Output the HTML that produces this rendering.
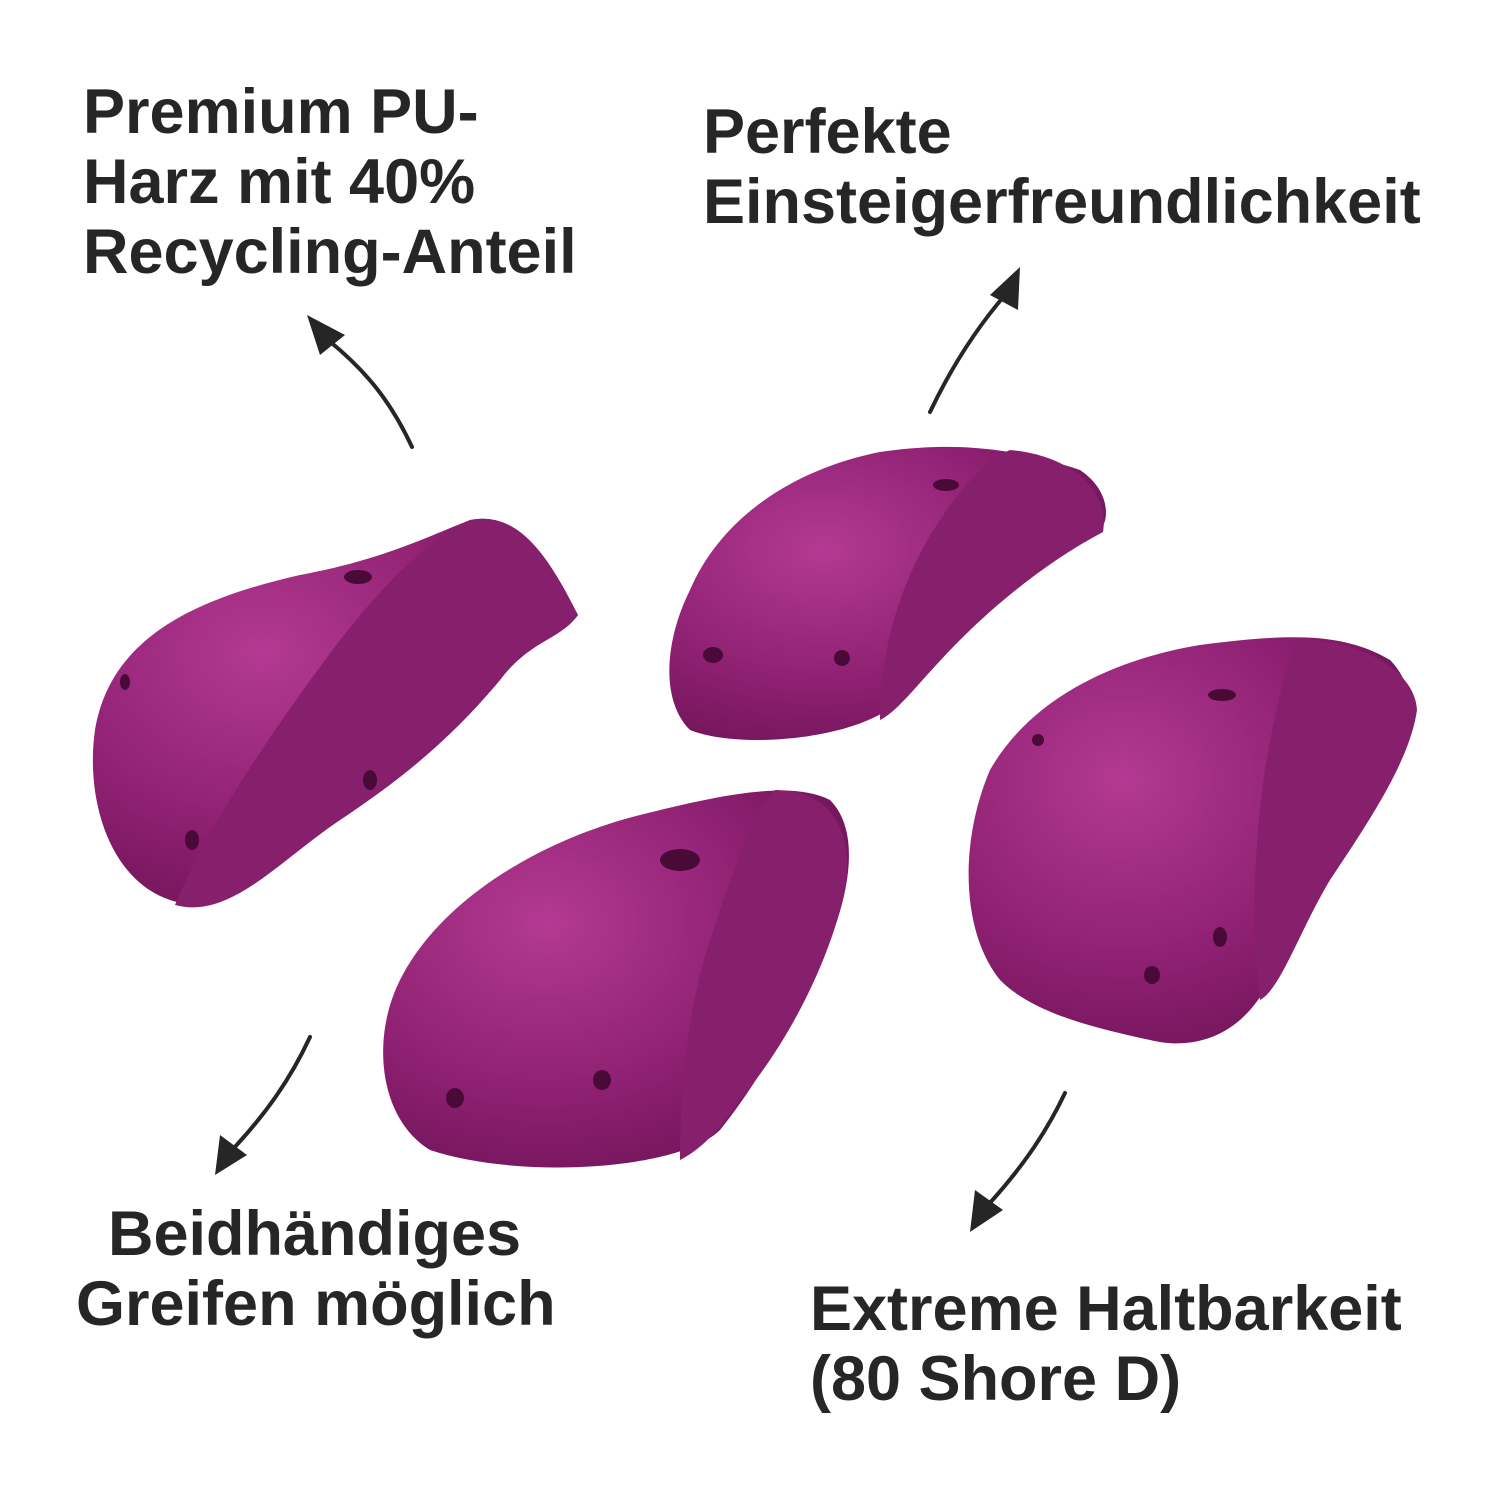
<!DOCTYPE html>
<html><head><meta charset="utf-8"><style>
html,body{margin:0;padding:0;background:#fff;}
body{width:1500px;height:1500px;position:relative;overflow:hidden;font-family:"Liberation Sans",Arial,sans-serif;}
.t{position:absolute;font-weight:bold;font-size:63px;line-height:70px;color:#262626;white-space:nowrap;}
svg{position:absolute;left:0;top:0;}
</style></head><body>
<svg width="1500" height="1500" viewBox="0 0 1500 1500">
<defs>
<radialGradient id="g1" cx="0.35" cy="0.35" r="0.8"><stop offset="0" stop-color="#b33a92"/><stop offset="0.6" stop-color="#8c1f70"/><stop offset="1" stop-color="#6a1253"/></radialGradient>
</defs>
<path d="M170 900 C110 880 85 800 95 730 C110 640 190 600 300 575 C380 560 420 540 470 520 C520 510 550 560 578 615 C560 640 530 640 500 680 C450 740 400 780 340 820 C280 860 230 920 170 900 Z" fill="url(#g1)"/>
<path d="M470 520 C520 510 550 560 578 615 C560 640 530 640 500 680 C450 740 400 780 340 820 C280 860 230 920 175 905 C210 820 280 720 340 640 C380 590 420 545 470 520 Z" fill="#86206c"/>
<path d="M690 730 C660 700 665 640 690 590 C720 520 790 470 880 452 C960 440 1020 450 1080 470 C1110 490 1110 520 1100 530 C1000 580 940 640 900 700 C860 740 740 750 690 730 Z" fill="url(#g1)"/>
<path d="M1010 450 C1070 455 1110 490 1103 532 C1050 560 1000 600 960 640 C920 680 900 710 880 720 C880 650 900 580 940 520 C960 490 985 460 1010 450 Z" fill="#86206c"/>
<path d="M430 1150 C380 1120 370 1040 400 980 C440 900 540 840 640 815 C720 795 790 780 830 800 C860 830 850 890 830 940 C800 1010 760 1080 720 1130 C680 1170 520 1180 430 1150 Z" fill="url(#g1)"/>
<path d="M775 790 C830 790 855 830 845 890 C830 960 790 1040 740 1100 C720 1130 700 1150 680 1160 C680 1080 690 1000 710 940 C730 880 750 820 775 790 Z" fill="#86206c"/>
<path d="M1000 980 C960 930 960 840 990 770 C1030 700 1110 660 1200 645 C1280 635 1340 630 1390 660 C1420 690 1415 740 1395 770 C1350 840 1300 900 1270 980 C1240 1040 1190 1050 1150 1040 C1080 1025 1030 1010 1000 980 Z" fill="url(#g1)"/>
<path d="M1300 640 C1360 640 1415 670 1417 710 C1410 760 1370 820 1330 880 C1300 930 1280 990 1260 1000 C1250 920 1255 840 1265 770 C1275 710 1285 665 1300 640 Z" fill="#86206c"/>
<g fill="#4a0a38">
<ellipse cx="358" cy="577" rx="14" ry="7"/><ellipse cx="125" cy="682" rx="5" ry="8"/><ellipse cx="370" cy="780" rx="7" ry="10"/><ellipse cx="192" cy="840" rx="7" ry="10"/>
<ellipse cx="946" cy="485" rx="13" ry="6"/><ellipse cx="713" cy="655" rx="10" ry="8"/><ellipse cx="842" cy="658" rx="8" ry="8"/>
<ellipse cx="680" cy="860" rx="20" ry="11"/><ellipse cx="455" cy="1098" rx="9" ry="10"/><ellipse cx="602" cy="1080" rx="9" ry="10"/>
<ellipse cx="1222" cy="695" rx="14" ry="6"/><ellipse cx="1038" cy="740" rx="6" ry="6"/><ellipse cx="1152" cy="975" rx="8" ry="9"/><ellipse cx="1220" cy="937" rx="7" ry="10"/>
</g>
<g fill="none" stroke="#262626" stroke-width="4" stroke-linecap="round">
<path d="M412 447 C390 400 365 370 328 340"/>
<path d="M930 412 C950 370 975 330 1005 295"/>
<path d="M310 1037 C290 1080 265 1115 232 1150"/>
<path d="M1065 1093 C1045 1135 1020 1170 988 1205"/>
</g>
<g fill="#262626">
<polygon points="307,315 345,335 320,355"/>
<polygon points="1020,267 1018,310 990,295"/>
<polygon points="215,1175 220,1135 247,1155"/>
<polygon points="970,1232 975,1190 1003,1210"/>
</g>
</svg>
<div class="t" style="left:83px;top:77px;">Premium PU-<br>Harz mit 40%<br>Recycling-Anteil</div>
<div class="t" style="left:703px;top:97px;">Perfekte<br>Einsteigerfreundlichkeit</div>
<div class="t" style="left:108px;top:1199px;">Beidhändiges</div>
<div class="t" style="left:76px;top:1269px;">Greifen möglich</div>
<div class="t" style="left:810px;top:1274px;">Extreme Haltbarkeit<br>(80 Shore D)</div>
</body></html>
